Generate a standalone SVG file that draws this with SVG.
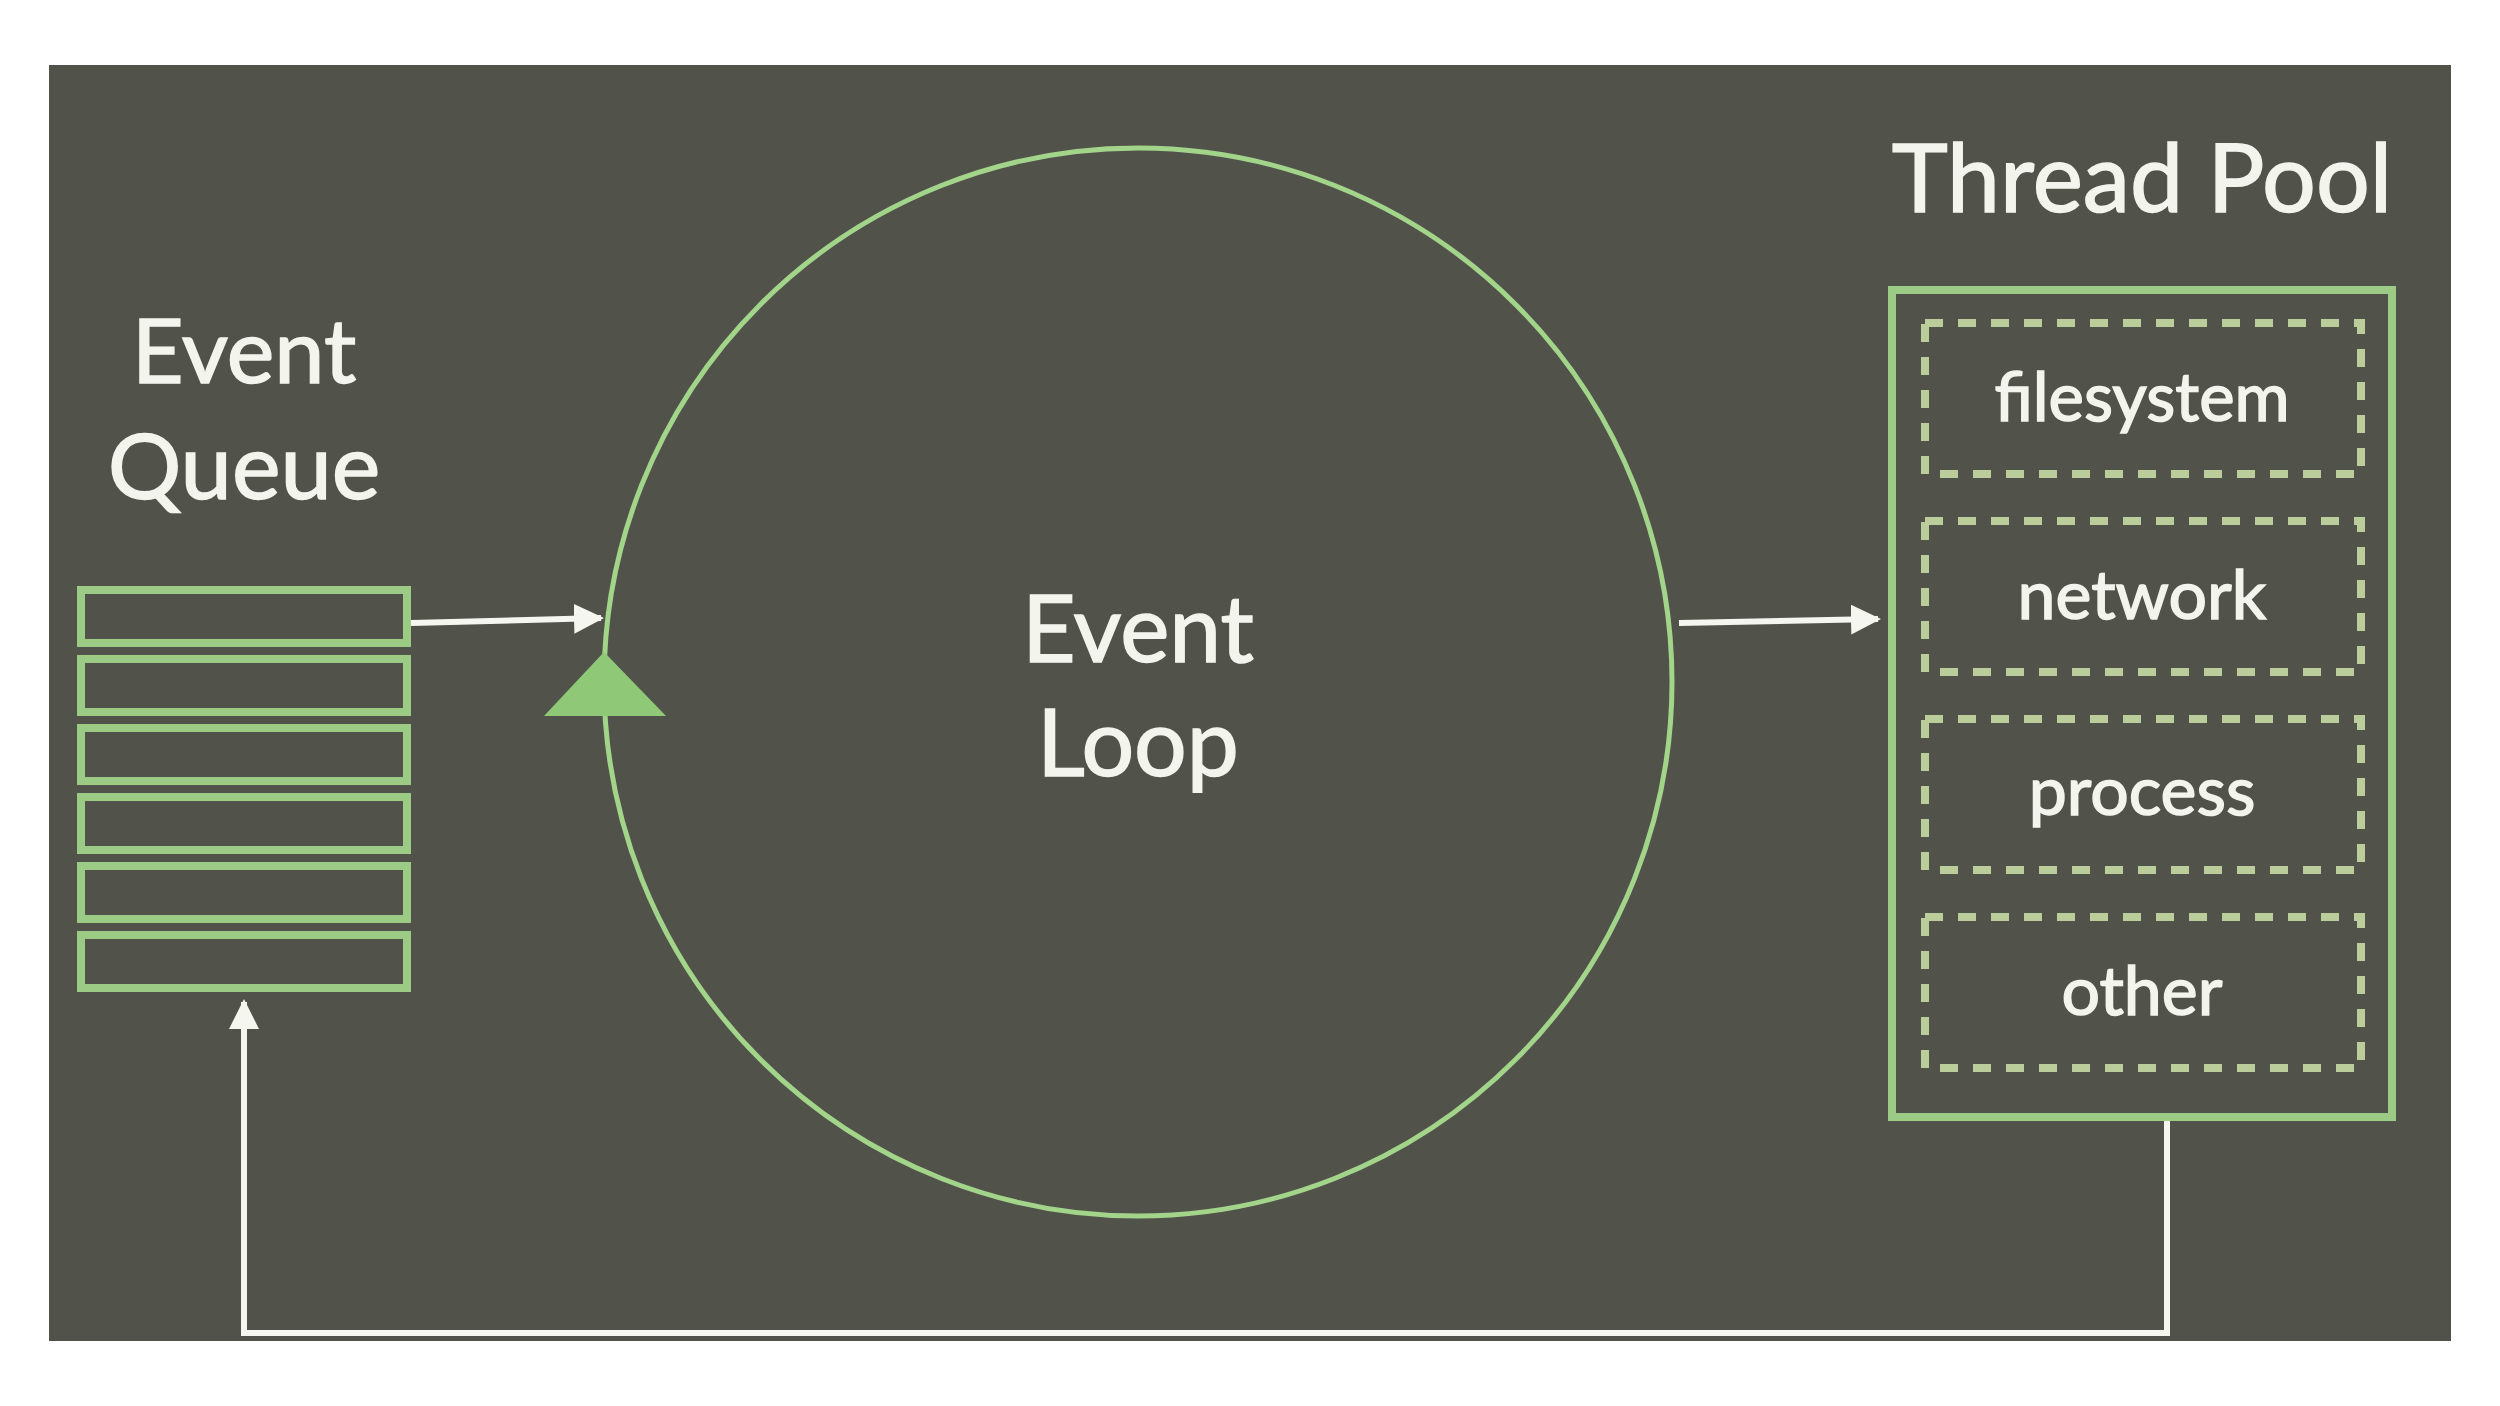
<svg xmlns="http://www.w3.org/2000/svg" width="2500" height="1406" viewBox="0 0 2500 1406">
<style>
.lbl{font-family:Lato,"Open Sans","Liberation Sans",sans-serif;fill:#f4f4ee;stroke:#f4f4ee;stroke-width:1.5;text-anchor:middle}
.q{fill:none;stroke:#9ccb86;stroke-width:8}
.dash{fill:none;stroke:#bccd9c;stroke-width:8;stroke-dasharray:18 15}
.conn{fill:none;stroke:#f6f6f0;stroke-width:6}
</style>
<defs>
<marker id="ah" viewBox="0 0 10 10" refX="9" refY="5" markerWidth="5" markerHeight="5" orient="auto" markerUnits="strokeWidth">
<path d="M0,0 L10,5 L0,10 z" fill="#f6f6f0"/>
</marker>
</defs>
<rect x="0" y="0" width="2500" height="1406" fill="#ffffff"/>
<rect x="49" y="65" width="2402" height="1276" fill="#51524a"/>

<g id="event-queue">
<text class="lbl" x="244" y="383" font-size="90">Event</text>
<text class="lbl" x="244" y="499" font-size="92">Queue</text>
<rect class="q" x="81" y="590" width="326" height="53"/>
<rect class="q" x="81" y="659" width="326" height="53"/>
<rect class="q" x="81" y="728" width="326" height="53"/>
<rect class="q" x="81" y="797" width="326" height="53"/>
<rect class="q" x="81" y="866" width="326" height="53"/>
<rect class="q" x="81" y="935" width="326" height="53"/>
</g>

<g id="event-loop">
<circle cx="1138" cy="682" r="534" fill="none" stroke="#a2d48a" stroke-width="5"/>
<polygon points="604,652 544,716 666,716" fill="#8fc977"/>
<text class="lbl" x="1138" y="662" font-size="93">Event</text>
<text class="lbl" x="1138" y="776" font-size="93">Loop</text>
</g>

<g id="thread-pool">
<text class="lbl" x="2142" y="212" font-size="95">Thread Pool</text>
<rect x="1892" y="290" width="500" height="827" fill="none" stroke="#9ccb86" stroke-width="8"/>
<g id="filesystem">
<rect class="dash" x="1925" y="323" width="436" height="151"/>
<text class="lbl" x="2142" y="421" font-size="67">filesystem</text>
</g>
<g id="network">
<rect class="dash" x="1925" y="521" width="436" height="151"/>
<text class="lbl" x="2142" y="619" font-size="68">network</text>
</g>
<g id="process">
<rect class="dash" x="1925" y="719" width="436" height="151"/>
<text class="lbl" x="2142" y="815" font-size="68">process</text>
</g>
<g id="other">
<rect class="dash" x="1925" y="917" width="436" height="151"/>
<text class="lbl" x="2142" y="1015" font-size="68">other</text>
</g>
</g>

<g id="connectors">
<line class="conn" x1="411" y1="623" x2="601" y2="618" marker-end="url(#ah)"/>
<line class="conn" x1="1679" y1="623" x2="1878" y2="619" marker-end="url(#ah)"/>
<polyline class="conn" points="2167,1121 2167,1333 244,1333 244,1002" marker-end="url(#ah)"/>
</g>
</svg>
